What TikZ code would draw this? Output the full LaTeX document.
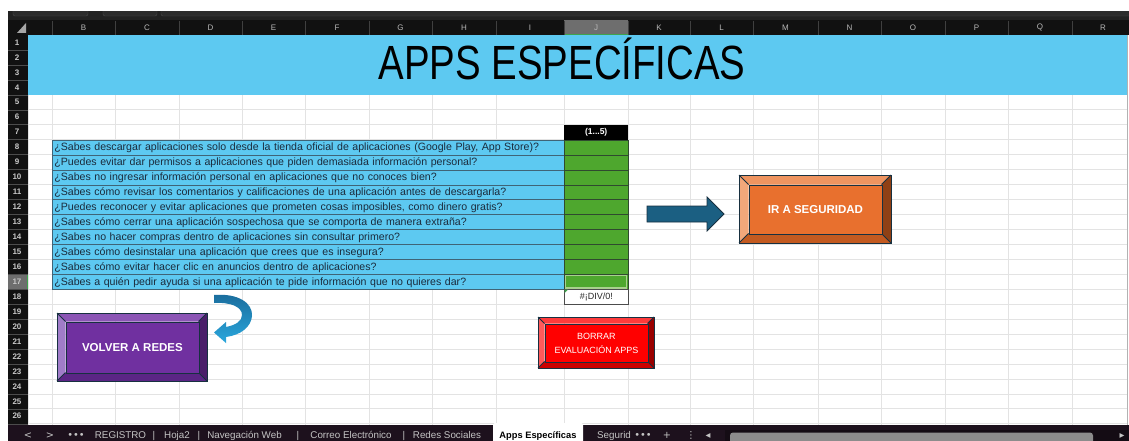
\documentclass[tikz,border=0pt]{standalone}
\usepackage{fontspec}
\setmainfont{Liberation Sans}
\newfontfamily\titlefont[FakeStretch=0.8]{Liberation Sans}
\newfontfamily\symfont{DejaVu Sans}
\definecolor{hdrbg}{HTML}{111111}
\definecolor{topbar}{HTML}{222222}
\definecolor{boxfill}{HTML}{2C2C2C}
\definecolor{boxline}{HTML}{4A4A4A}
\definecolor{hdrtxt}{HTML}{B8B8B8}
\definecolor{rowtxt}{HTML}{C8C8C8}
\definecolor{hdrsel}{HTML}{6E6E6E}
\definecolor{selgreen}{HTML}{3FA34D}
\definecolor{gridc}{HTML}{E3E3E3}
\definecolor{sky}{HTML}{5DC9F1}
\definecolor{qborder}{HTML}{3F6477}
\definecolor{qtext}{HTML}{1B2B3C}
\definecolor{xgreen}{HTML}{4EA72E}
\definecolor{gborder}{HTML}{2F4A2F}
\definecolor{selbox}{HTML}{A9D08E}
\definecolor{tabbar}{HTML}{1D111D}
\definecolor{tabtxt}{HTML}{C4C4C4}
\definecolor{scrollc}{HTML}{8C8C8C}
\definecolor{btnline}{HTML}{173040}
\definecolor{arrowblue}{HTML}{1B5F82}
\definecolor{carrowtop}{HTML}{1A6C9C}
\definecolor{carrowbot}{HTML}{2AA7DD}
% orange button
\definecolor{orface}{HTML}{E8702E}
\definecolor{ortop}{HTML}{EE9460}
\definecolor{orleft}{HTML}{F2A77A}
\definecolor{orbot}{HTML}{C35A20}
\definecolor{orright}{HTML}{8F4015}
% purple button
\definecolor{puface}{HTML}{7030A0}
\definecolor{putop}{HTML}{8B55B5}
\definecolor{puleft}{HTML}{A07CC8}
\definecolor{pubot}{HTML}{5B2585}
\definecolor{puright}{HTML}{4A1E6A}
% red button
\definecolor{rdface}{HTML}{FF0000}
\definecolor{rdtop}{HTML}{FF3B3B}
\definecolor{rdleft}{HTML}{FF5A5A}
\definecolor{rdbot}{HTML}{CC0000}
\definecolor{rdright}{HTML}{990000}

\newcommand\bevelbtn[9]{%
  \pgfmathsetmacro\bxa{#2+#6}%
  \pgfmathsetmacro\bya{#3+#6}%
  \pgfmathsetmacro\bxb{#4-#6}%
  \pgfmathsetmacro\byb{#5-#6}%
  \pgfmathsetmacro\bw{#4-#2-2*#6}%
  \pgfmathsetmacro\bh{#5-#3-2*#6}%
  \fill[#7top] (#2,#3) -- (#4,#3) -- (\bxb,\bya) -- (\bxa,\bya) -- cycle;
  \fill[#7bot] (#2,#5) -- (#4,#5) -- (\bxb,\byb) -- (\bxa,\byb) -- cycle;
  \fill[#7left] (#2,#3) -- (\bxa,\bya) -- (\bxa,\byb) -- (#2,#5) -- cycle;
  \fill[#7right] (#4,#3) -- (\bxb,\bya) -- (\bxb,\byb) -- (#4,#5) -- cycle;
  \draw[btnedge] (#2,#3) -- (\bxa,\bya) (#4,#3) -- (\bxb,\bya) (#2,#5) -- (\bxa,\byb) (#4,#5) -- (\bxb,\byb);
  \draw[btnedge] (#2,#3) rectangle (#4,#5);
  \node[btnedge, fill=#7face, minimum width=\bw pt, minimum height=\bh pt, inner sep=0pt,
        anchor=north west, align=center, text=white, font=#9] (#1) at (\bxa,\bya) {#8};
}

\newcommand\qrow[2]{%
  \pgfmathsetmacro\yt{35+(#1-1)*14.95}%
  \node[qcell] (q#1) at (52,\yt) {#2};
  \node[gcell] (a#1) at (564,\yt) {};
}

\begin{document}
\begin{tikzpicture}[x=1pt,y=-1pt,
  btnedge/.style={draw=btnline, line width=0.9pt},
  gridline/.style={draw=gridc, line width=0.6pt},
  coltxt/.style={text=hdrtxt, font=\fontsize{8}{9}\selectfont, inner sep=0pt},
  rowlab/.style={text=rowtxt, font=\bfseries\fontsize{8}{9}\selectfont, inner sep=0pt},
  qcell/.style={draw=qborder, fill=sky, line width=0.7pt, anchor=north west,
     minimum height=14.95pt, text width=508pt, inner xsep=2pt, inner ysep=0pt,
     text height=8.5pt, text depth=1.5pt, align=left, text=qtext,
     font=\fontsize{10.6}{12}\selectfont},
  gcell/.style={draw=gborder, fill=xgreen, line width=0.7pt, anchor=north west,
     minimum height=14.95pt, minimum width=64pt, inner sep=0pt},
  tabtext/.style={text=tabtxt, font=\fontsize{9.8}{11}\selectfont, inner sep=0pt, anchor=base}
]
\useasboundingbox (0,0) rectangle (1129,441);
\fill[white] (0,0) rectangle (1129,441);

% ---------- top bars ----------
\fill[topbar] (8,11) rectangle (1129,20);
\draw[fill=boxfill, draw=boxline, rounded corners=2pt] (13,5) rectangle (88,16);
\draw[fill=boxfill, draw=boxline, rounded corners=2pt] (103,5) rectangle (157,16);
\draw[fill=boxfill, draw=boxline, rounded corners=2pt] (161,5) rectangle (1140,16);
\fill[white] (0,0) rectangle (1129,11);
\fill[hdrbg] (8,20) rectangle (1129,35);
\fill[hdrbg] (8,35) rectangle (28,425);
\fill[hdrsel] (564,20) rectangle (628,35);
\draw[selgreen, line width=1pt] (564,34.5) -- (628,34.5);
\fill[gray!70] (26,23) -- (26,33) -- (17,33) -- cycle;

% column separators in header
\foreach \x in {52,115,179,242,305,369,432,496,564,628,690,753,818,881,945,1008,1072}
  \draw[draw=black!75!white, line width=0.5pt] (\x,21) -- (\x,35);
% column letters
\foreach \c/\x in {B/83.5,C/147,D/210.5,E/273.5,F/337,G/400.5,H/464,I/530,J/596,K/659,L/721.5,M/785.5,N/849.5,O/913,P/976.5,Q/1040,R/1103}
  \node[coltxt] (col\c) at (\x,27.8) {\c};

% ---------- grid ----------
\foreach \x in {28,52,115,179,242,305,369,432,496,564,628,690,753,818,881,945,1008,1072}
  \draw[gridline] (\x,35) -- (\x,425);
\foreach \r in {0,...,26}{
  \pgfmathsetmacro\yy{35+\r*14.95}
  \draw[gridline] (28,\yy) -- (1127,\yy);
}
\draw[draw=gray!60, line width=0.8pt] (1127.5,35) -- (1127.5,425);

% row header labels
\pgfmathsetmacro\ysel{35+16*14.95}
\fill[hdrsel] (8,\ysel) rectangle (28,\ysel+14.95);
\draw[selgreen, line width=1pt] (27.5,\ysel) -- (27.5,\ysel+14.95);
\foreach \r in {1,...,26}{
  \pgfmathsetmacro\yy{35+(\r-0.5)*14.95}
  \pgfmathsetmacro\ys{35+\r*14.95}
  \draw[draw=black!70!white, line width=0.4pt] (8,\ys) -- (28,\ys);
  \node[rowlab] (row\r) at (17,\yy) {\r};
}

% ---------- title band ----------
\node[fill=sky, draw=none, minimum width=1099pt, minimum height=60pt, inner sep=0pt, anchor=north west] (band) at (28,35) {};
\node[anchor=base, inner sep=0pt, font=\titlefont\fontsize{48}{50}\selectfont] (title) at (562,80) {APPS ESPECÍFICAS};

% ---------- question table ----------
\node[fill=black, minimum width=64pt, minimum height=14.95pt, inner sep=0pt, anchor=north west,
      text=white, font=\bfseries\fontsize{8.5}{9}\selectfont] (scale) at (564,124.7) {(1...5)};
\qrow{8}{¿Sabes descargar aplicaciones solo desde la tienda oficial de aplicaciones (Google Play, App Store)?}
\qrow{9}{¿Puedes evitar dar permisos a aplicaciones que piden demasiada información personal?}
\qrow{10}{¿Sabes no ingresar información personal en aplicaciones que no conoces bien?}
\qrow{11}{¿Sabes cómo revisar los comentarios y calificaciones de una aplicación antes de descargarla?}
\qrow{12}{¿Puedes reconocer y evitar aplicaciones que prometen cosas imposibles, como dinero gratis?}
\qrow{13}{¿Sabes cómo cerrar una aplicación sospechosa que se comporta de manera extraña?}
\qrow{14}{¿Sabes no hacer compras dentro de aplicaciones sin consultar primero?}
\qrow{15}{¿Sabes cómo desinstalar una aplicación que crees que es insegura?}
\qrow{16}{¿Sabes cómo evitar hacer clic en anuncios dentro de aplicaciones?}
\qrow{17}{¿Sabes a quién pedir ayuda si una aplicación te pide información que no quieres dar?}
% selected cell J17
\draw[selbox, line width=1.3pt] (565.2,275.4) rectangle (626.8,287.9);
\node[draw=black!70!white, fill=white, line width=0.9pt, minimum width=64pt, minimum height=14.95pt, inner sep=0pt,
      anchor=north west, text=black!85, font=\fontsize{9}{10}\selectfont] (avg) at (564,289.15) {\#¡DIV/0!};
\fill[selgreen] (564.5,289.6) -- (568,289.6) -- (564.5,293.1) -- cycle;

% ---------- right arrow ----------
\filldraw[fill=arrowblue, draw=btnline, line width=0.8pt]
  (647,206) -- (707,206) -- (707,197) -- (724,214) -- (707,231) -- (707,222) -- (647,222) -- cycle;

% ---------- buttons ----------
\bevelbtn{seg}{739}{175}{891}{243}{9.5}{or}{IR A SEGURIDAD}{\bfseries\fontsize{11.5}{13}\selectfont}
\bevelbtn{volver}{57}{313}{207}{381}{8.5}{pu}{VOLVER A REDES}{\bfseries\fontsize{11.5}{13}\selectfont}
\bevelbtn{borrar}{538}{317}{654}{368}{6.5}{rd}{BORRAR\\EVALUACIÓN APPS}{\fontsize{9}{14}\selectfont}

% ---------- curved arrow ----------
\shade[top color=carrowtop, bottom color=carrowbot]
  (214,295) .. controls (238,293) and (253,303) .. (252,316)
  .. controls (251,327) and (241,335) .. (226,337)
  -- (226,343) -- (214,332.5) -- (226,322) -- (226,327)
  .. controls (236,325) and (242,321) .. (242,315)
  .. controls (242,307) and (231,302) .. (214,303) -- cycle;

% ---------- bottom tab bar ----------
\fill[tabbar] (8,425) rectangle (1129,441);
\fill[white, rounded corners=1.5pt] (493,423) rectangle (583,443);
\fill[black!30!tabbar] (725,430) rectangle (1129,441);
\fill[scrollc, rounded corners=3pt] (730,432.5) rectangle (1093,444);
\node[tabtext] (t1) at (28,438) {\symfont <};
\node[tabtext] (t2) at (50,438) {\symfont >};
\node[tabtext] (t3) at (76,438) {\symfont •••};
\node[tabtext] (t4) at (120.5,438) {REGISTRO};
\node[tabtext] (s1) at (154,438) {|};
\node[tabtext] (t5) at (177,438) {Hoja2};
\node[tabtext] (s2) at (199,438) {|};
\node[tabtext] (t6) at (244.5,438) {Navegación Web};
\node[tabtext] (s3) at (298,438) {|};
\node[tabtext] (t7) at (351,438) {Correo Electrónico};
\node[tabtext] (s4) at (404,438) {|};
\node[tabtext] (t8) at (447,438) {Redes Sociales};
\node[tabtext, text=black, font=\bfseries\fontsize{9.3}{10}\selectfont] (t9) at (538,438) {Apps Específicas};
\node[tabtext] (t10) at (614,438) {Segurid};
\node[tabtext] (t11) at (643,438) {\symfont •••};
\node[tabtext] (t12) at (667,438) {\symfont +};
\node[tabtext] (t13) at (691,438) {\symfont ⋮};
\node[tabtext] (t14) at (708,438) {\symfont ◂};
\node[tabtext] (t15) at (1122,438) {\symfont ▸};
\end{tikzpicture}
\end{document}
